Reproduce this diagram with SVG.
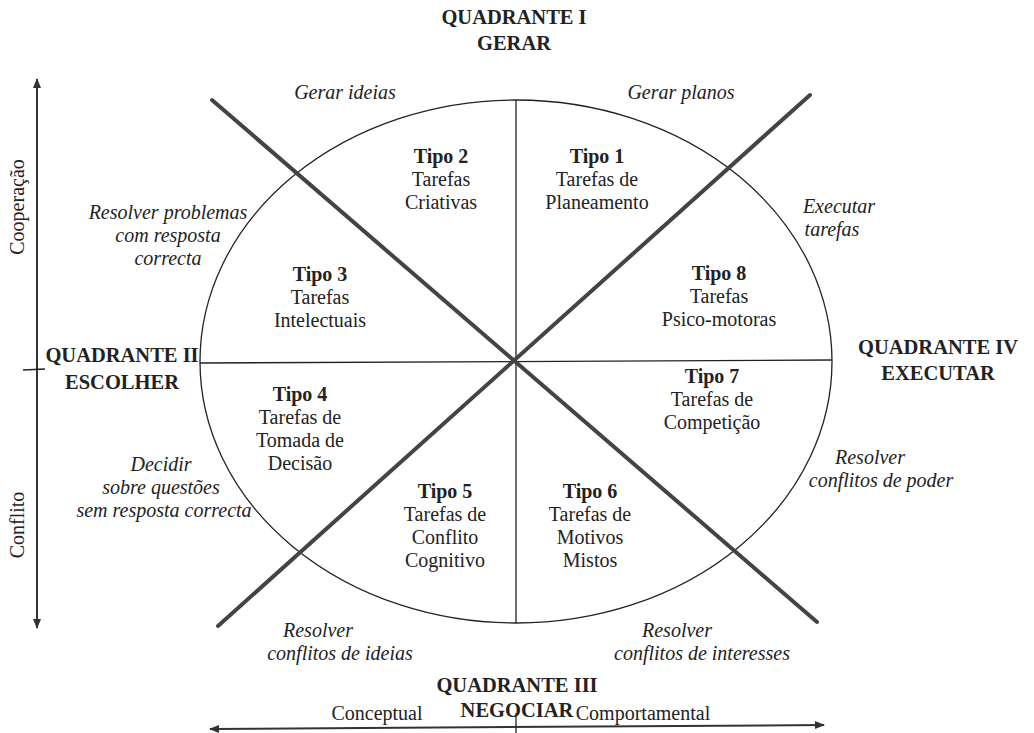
<svg xmlns="http://www.w3.org/2000/svg" width="1034" height="733" viewBox="0 0 1034 733" font-family="Liberation Serif, Times New Roman, serif">
  <defs>
    <marker id="arrow" viewBox="0 0 10 10" refX="9" refY="5" markerWidth="10" markerHeight="10" markerUnits="userSpaceOnUse" orient="auto-start-reverse">
      <path d="M0,1 L10,5 L0,9 Z" fill="#333"/>
    </marker>
    <style>
      text { fill: #222; text-anchor: middle; }
      .quad { font-size: 20.5px; font-weight: bold; }
      .tipo { font-size: 20px; font-weight: bold; }
      .desc { font-size: 20px; }
      .act { font-size: 20px; font-style: italic; }
      .axis { font-size: 20px; }
      .thin { stroke: #222; stroke-width: 1.3; fill: none; }
      .thick { stroke: #444; stroke-width: 4; stroke-linecap: round; fill: none; }
      .ax { stroke: #333; stroke-width: 2; fill: none; }
    </style>
  </defs>
  <rect width="1034" height="733" fill="#fff"/>

  <!-- circle divided into eight sectors, plus the two axes -->
  <g id="connectors">
    <ellipse class="thin" cx="516" cy="361.5" rx="316" ry="261.5"/>
    <line class="thin" x1="516" y1="100" x2="516" y2="623"/>
    <line class="thin" x1="200" y1="363" x2="832" y2="360"/>
    <line class="thick" x1="212" y1="100" x2="817" y2="622"/>
    <line class="thick" x1="810" y1="95" x2="218" y2="626"/>
    <line class="ax" x1="37" y1="79" x2="37" y2="628" marker-start="url(#arrow)" marker-end="url(#arrow)"/>
    <line class="thin" x1="23" y1="370" x2="45" y2="369"/>
    <line class="ax" x1="210" y1="729" x2="824" y2="725" marker-start="url(#arrow)" marker-end="url(#arrow)"/>
    <line class="thin" x1="516" y1="713" x2="516" y2="733"/>
  </g>

  <g id="quadrante-1">
    <text class="quad" x="514" y="24">QUADRANTE I</text>
    <text class="quad" x="514" y="50">GERAR</text>
  </g>
  <g id="quadrante-2">
    <text class="quad" x="122" y="362">QUADRANTE II</text>
    <text class="quad" x="122" y="389">ESCOLHER</text>
  </g>
  <g id="quadrante-3">
    <text class="quad" x="517" y="692">QUADRANTE III</text>
    <text class="quad" x="517" y="717">NEGOCIAR</text>
  </g>
  <g id="quadrante-4">
    <text class="quad" x="938" y="354">QUADRANTE IV</text>
    <text class="quad" x="938" y="380">EXECUTAR</text>
  </g>

  <g id="eixo-vertical">
    <text class="axis" transform="translate(24,207) rotate(-90)">Cooperação</text>
    <text class="axis" transform="translate(24,525) rotate(-90)">Conflito</text>
  </g>
  <g id="eixo-horizontal">
    <text class="axis" x="377" y="720">Conceptual</text>
    <text class="axis" x="643" y="720">Comportamental</text>
  </g>

  <g id="tipo-1">
    <text class="tipo" x="597" y="163">Tipo 1</text>
    <text class="desc" x="597" y="186">Tarefas de</text>
    <text class="desc" x="597" y="209">Planeamento</text>
  </g>
  <g id="tipo-2">
    <text class="tipo" x="441" y="163">Tipo 2</text>
    <text class="desc" x="441" y="186">Tarefas</text>
    <text class="desc" x="441" y="209">Criativas</text>
  </g>
  <g id="tipo-3">
    <text class="tipo" x="320" y="281">Tipo 3</text>
    <text class="desc" x="320" y="304">Tarefas</text>
    <text class="desc" x="320" y="327">Intelectuais</text>
  </g>
  <g id="tipo-4">
    <text class="tipo" x="300" y="401">Tipo 4</text>
    <text class="desc" x="300" y="424">Tarefas de</text>
    <text class="desc" x="300" y="447">Tomada de</text>
    <text class="desc" x="300" y="470">Decisão</text>
  </g>
  <g id="tipo-5">
    <text class="tipo" x="445" y="498">Tipo 5</text>
    <text class="desc" x="445" y="521">Tarefas de</text>
    <text class="desc" x="445" y="544">Conflito</text>
    <text class="desc" x="445" y="567">Cognitivo</text>
  </g>
  <g id="tipo-6">
    <text class="tipo" x="590" y="498">Tipo 6</text>
    <text class="desc" x="590" y="521">Tarefas de</text>
    <text class="desc" x="590" y="544">Motivos</text>
    <text class="desc" x="590" y="567">Mistos</text>
  </g>
  <g id="tipo-7">
    <text class="tipo" x="712" y="383">Tipo 7</text>
    <text class="desc" x="712" y="406">Tarefas de</text>
    <text class="desc" x="712" y="429">Competição</text>
  </g>
  <g id="tipo-8">
    <text class="tipo" x="719" y="280">Tipo 8</text>
    <text class="desc" x="719" y="303">Tarefas</text>
    <text class="desc" x="719" y="326">Psico-motoras</text>
  </g>

  <g id="atividades">
    <text class="act" x="345" y="99">Gerar ideias</text>
    <text class="act" x="681" y="99">Gerar planos</text>
    <text class="act" x="168" y="219">Resolver problemas</text>
    <text class="act" x="168" y="242">com resposta</text>
    <text class="act" x="168" y="265">correcta</text>
    <text class="act" x="839" y="213">Executar</text>
    <text class="act" x="832" y="236">tarefas</text>
    <text class="act" x="161" y="471">Decidir</text>
    <text class="act" x="161" y="494">sobre questões</text>
    <text class="act" x="164" y="517">sem resposta correcta</text>
    <text class="act" x="870" y="464">Resolver</text>
    <text class="act" x="881" y="487">conflitos de poder</text>
    <text class="act" x="318" y="637">Resolver</text>
    <text class="act" x="340" y="660">conflitos de ideias</text>
    <text class="act" x="677" y="637">Resolver</text>
    <text class="act" x="702" y="660">conflitos de interesses</text>
  </g>
</svg>
